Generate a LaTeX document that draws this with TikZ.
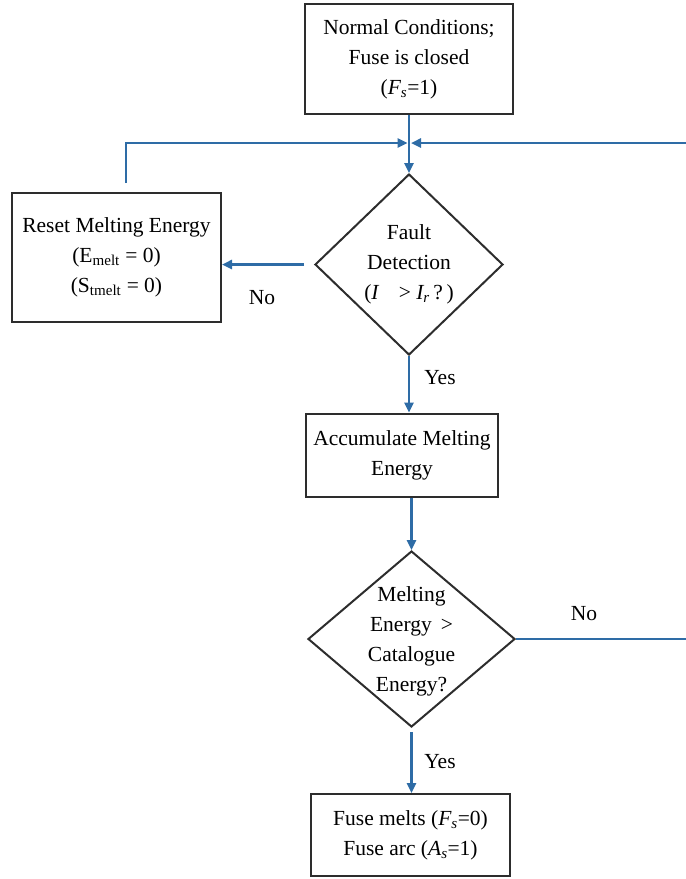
\documentclass[tikz,border=0pt]{standalone}
\usepackage{fontspec}
\setmainfont{Liberation Serif}
\usetikzlibrary{shapes.geometric,arrows.meta,calc}
\definecolor{flowblue}{RGB}{46,108,166}
\definecolor{edgegray}{RGB}{45,45,45}
\begin{document}
\begin{tikzpicture}[x=1pt,y=-1pt,
  every node/.style={font=\fontsize{21.5}{30}\selectfont, align=center},
  procbox/.style={draw=edgegray, line width=2pt, rectangle, inner sep=0pt},
  decision/.style={draw=edgegray, line width=2pt, diamond, inner sep=0pt},
  flow/.style={draw=flowblue, line width=2.4pt, -{Triangle[length=10pt,width=9pt]}},
  lbl/.style={inner sep=0pt}]
\useasboundingbox (0,0) rectangle (686,879);

% process boxes
\node[procbox, minimum width=208pt, minimum height=110pt] (normal) at (409,59)
  {\rule{0pt}{6pt}Normal Conditions;\\Fuse is closed\\(\textit{F\textsubscript{s}}=1)};
\node[procbox, minimum width=209pt, minimum height=129pt] (reset) at (116.5,257.5)
  {Reset Melting Energy\\(E\textsubscript{melt} = 0)\\(S\textsubscript{tmelt} = 0)};
\node[procbox, minimum width=192pt, minimum height=83pt] (accum) at (402,455)
  {Accumulate Melting\\Energy};
\node[procbox, minimum width=199pt, minimum height=82pt] (melts) at (410.5,835)
  {Fuse melts (\textit{F\textsubscript{s}}=0)\\Fuse arc (\textit{A\textsubscript{s}}=1)};

% decisions: outline first, wording on top
\node[decision, minimum width=188pt, minimum height=181pt] (fault) at (409,264.5) {};
\node[lbl] (faulttext) at (fault.center)
  {Fault\\Detection\\(\textit{I}\hspace{0.9em}> \textit{I\textsubscript{r}}\,?\,)};
\node[decision, minimum width=207pt, minimum height=176pt] (energy) at (411.5,639) {};
\node[lbl] (energytext) at ([yshift=-2pt]energy.center)
  {Melting\\Energy \,>\\Catalogue\\Energy?};

% junction where the loops rejoin the main line
\coordinate (join) at (409,143);

% main line
\draw[flow] (normal.south) -- (fault.north);
\draw[flow] (fault.south) -- (fault.south |- accum.north);
\draw[flow] (accum.south -| energy.north) -- (energy.north);
\draw[flow] ([yshift=-4pt]energy.south) -- (energy.south |- melts.north);

% fault branch: No -> reset, then back to the main line
\draw[flow] ([xshift=-10pt]fault.west) -- (reset.east |- fault.west);
\draw[flow] ([xshift=9.5pt,yshift=9pt]reset.north) |- ([xshift=-1.5pt]join);

% energy branch: No -> back to the main line round the right side
\draw[flow] (energy.east) -- (689,639) |- ([xshift=2pt]join);

% branch labels
\node[lbl] (no1) at (262,298) {No};
\node[lbl] (yes1) at (440,378) {Yes};
\node[lbl] (no2) at (584,614) {No};
\node[lbl] (yes2) at (440,762) {Yes};
\end{tikzpicture}
\end{document}
